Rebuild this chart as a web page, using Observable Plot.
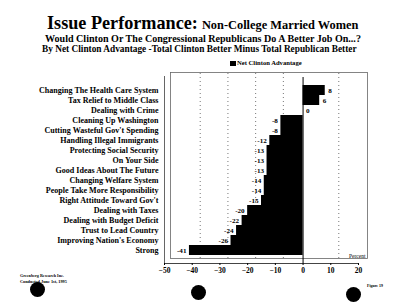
<!DOCTYPE html>
<html>
<head>
<meta charset="utf-8">
<script src="https://cdn.jsdelivr.net/npm/d3@7"></script>
<script src="https://cdn.jsdelivr.net/npm/@observablehq/plot@0.6"></script>
<style>
  html, body { margin: 0; padding: 0; background: #fff; }
  #page { position: relative; width: 400px; height: 303px; overflow: hidden; background: #fff;
          font-family: "Liberation Serif", serif; font-weight: bold; color: #000; }
  .t { position: absolute; white-space: nowrap; line-height: 1; }
  #title { top: 14px; }
  #sub1 { top: 34px; }
  #sub2 { top: 45px; }
  #legend { left: 230px; top: 60px; display: flex; align-items: center; }
  #legend .sw { width: 6px; height: 5px; background: #000; margin-right: 1px; }
  #chart { position: absolute; left: 0; top: 68px; }
  #src { left: 20px; top: 273px; }
  #src div { line-height: 6px; }
  #fig { left: 367px; top: 284px; }
  .hole { position: absolute; width: 15px; height: 15px; border-radius: 50%; background: #000; }
</style>
</head>
<body>
<div id="page">
  <div class="t" id="title"><span id="titleBig">Issue Performance:</span> <span id="titleSmall">Non-College Married Women</span></div>
  <div class="t" id="sub1">Would Clinton Or The Congressional Republicans Do A Better Job On...?</div>
  <div class="t" id="sub2">By Net Clinton Advantage -Total Clinton Better Minus Total Republican Better</div>
  <div class="t" id="legend"><span class="sw"></span><span id="legendText">Net Clinton Advantage</span></div>
  <div id="chart"></div>
  <div class="t" id="src"><div id="src1">Greenberg Research Inc.</div><div id="src2">Conducted June 1st, 1995</div></div>
  <div class="t" id="fig">Figure 19</div>
  <div class="hole" style="left:30px; top:282px"></div>
  <div class="hole" style="left:191px; top:285px"></div>
  <div class="hole" style="left:346px; top:287px"></div>
</div>
<script>
// Issues, in chart order (top to bottom)
const issues = [
  "Changing The Health Care System",
  "Tax Relief to Middle Class",
  "Dealing with Crime",
  "Cleaning Up Washington",
  "Cutting Wasteful Gov't Spending",
  "Handling Illegal Immigrants",
  "Protecting Social Security",
  "On Your Side",
  "Good Ideas About The Future",
  "Changing Welfare System",
  "People Take More Responsibility",
  "Right Attitude Toward Gov't",
  "Dealing with Taxes",
  "Dealing with Budget Deficit",
  "Trust to Lead Country",
  "Improving Nation's Economy",
  "Strong"
];

// Net Clinton advantage (Clinton better minus Republicans better), percent
const netAdvantage = [8, 6, 0, -8, -8, -12, -13, -13, -13, -14, -14, -15, -20, -22, -24, -26, -41];

// Axis ticks
const xTicks = [-50, -40, -30, -20, -10, 0, 10, 20];
const gridTicks = [-40, -30, -20, -10, 10];

const rows = issues.map((issue, i) => ({issue, value: netAdvantage[i]}));

const serif = '"Liberation Serif", serif';

// font size that makes a bold serif string a given width
const ctx = document.createElement("canvas").getContext("2d");
function fitSize(text, width) {
  ctx.font = `bold 100px ${serif}`;
  return 100 * width / ctx.measureText(text).width;
}
function setText(id, width, left) {
  const el = document.getElementById(id);
  el.style.fontSize = fitSize(el.textContent, width) + "px";
  if (left != null) el.style.left = left + "px";
}

// heading lines
document.getElementById("titleBig").style.fontSize = fitSize("Issue Performance:", 151) + "px";
document.getElementById("titleSmall").style.fontSize = fitSize("Non-College Married Women", 157) + "px";
document.getElementById("title").style.left = "47px";
setText("sub1", 318, 45);
setText("sub2", 316, 42);
setText("legendText", 65);
setText("src1", 44);
setText("src2", 47);
setText("fig", 16);

const labelSize = fitSize(issues[0], 120);
const tickSize = fitSize("-50", 10);
const valueSize = fitSize("-41", 9.5);

const chart = Plot.plot({
  width: 400,
  height: 215,
  marginTop: 9,
  marginBottom: 20,
  marginLeft: 164,
  marginRight: 42,
  style: {
    fontFamily: serif,
    fontWeight: "bold",
    fontSize: "10px",
    color: "#000",
    background: "transparent"
  },
  x: {domain: [-50, 20]},
  y: {domain: issues, padding: 0},
  marks: [
    // back wall of the box
    Plot.frame({insetTop: -5, insetRight: -9, insetLeft: 6, insetBottom: 5, stroke: "#666", strokeWidth: 0.8}),
    Plot.gridX(gridTicks, {dx: 8, stroke: "#777", strokeOpacity: 1, strokeDasharray: "1,3", insetTop: -4, insetBottom: 5}),
    Plot.barX(rows, {x: "value", y: "issue", fill: "#000"}),
    Plot.ruleX([0], {stroke: "#000", strokeWidth: 1}),
    Plot.text(rows.filter(d => d.value >= 0), {
      x: "value", y: "issue", text: d => String(d.value),
      textAnchor: "start", dx: 3, fontSize: valueSize, fontFamily: serif
    }),
    Plot.text(rows.filter(d => d.value < 0), {
      x: "value", y: "issue", text: d => String(d.value),
      textAnchor: "end", dx: -3, fontSize: valueSize, fontFamily: serif
    }),
    Plot.text(["Percent"], {frameAnchor: "bottom-right", text: d => d, dx: 7, dy: -6, fontSize: 5.5, fontWeight: "normal", fontFamily: serif}),
    // front edges of the box
    Plot.frame({anchor: "bottom", stroke: "#444"}),
    Plot.frame({anchor: "left", stroke: "#666", insetTop: -1}),
    Plot.axisY({tickSize: 0, tickPadding: 6, fontSize: labelSize, fontFamily: serif, label: null}),
    Plot.axisX({ticks: xTicks, tickSize: 2, tickPadding: 2, fontSize: tickSize, fontFamily: serif, label: null})
  ]
});

document.getElementById("chart").appendChild(chart);
</script>
</body>
</html>
